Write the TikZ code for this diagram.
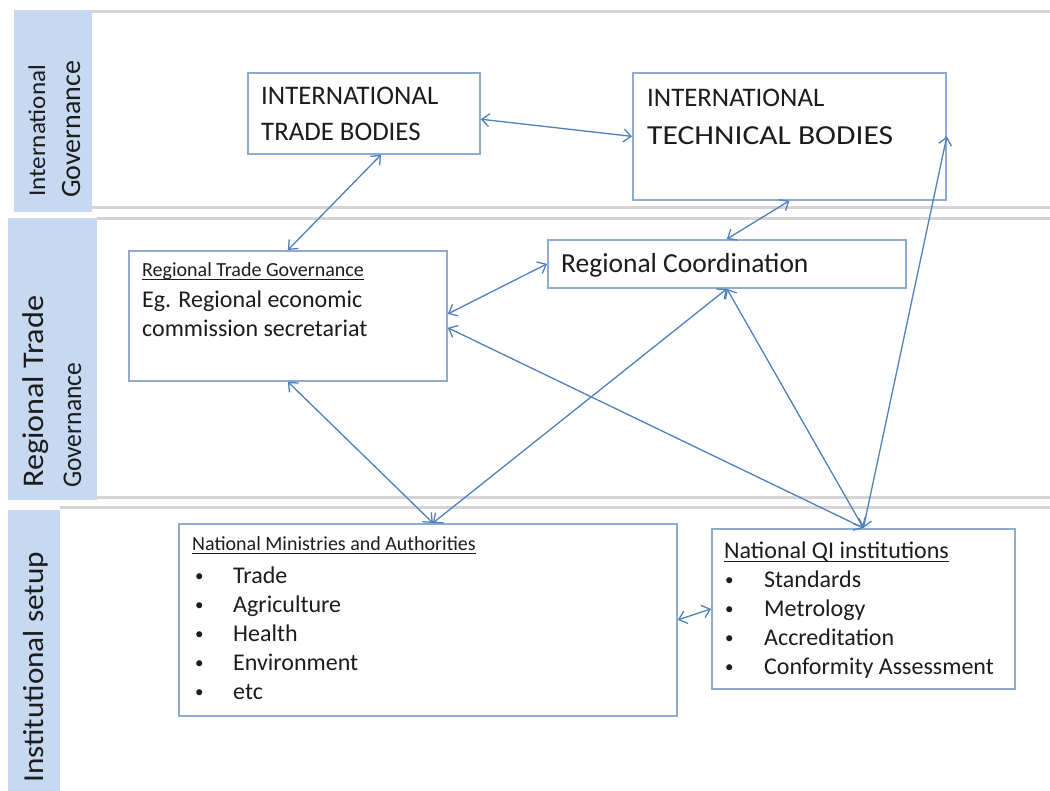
\documentclass[tikz,border=0pt]{standalone}
\usepackage{fontspec}
\setmainfont{Carlito}
\usepackage{graphicx}
\usetikzlibrary{arrows.meta,calc}
\definecolor{strip}{RGB}{198,217,241}
\definecolor{boxc}{RGB}{143,171,206}
\definecolor{arr}{RGB}{79,129,189}
\definecolor{bandc}{RGB}{212,212,212}
\definecolor{txt}{RGB}{28,28,28}
\begin{document}
\begin{tikzpicture}[x=1pt,y=-1pt,
  box/.style={draw=boxc, line width=1.8pt, fill=white, anchor=north west, inner sep=0},
  t/.style={anchor=base west, inner sep=0, text=txt},
  bul/.style={anchor=base west, inner sep=0, text=txt, font=\fontsize{17}{17}\selectfont},
  lbl/.style={rotate=90, anchor=base west, inner sep=0, text=txt},
  link/.style={draw=arr, line width=1.3pt, {Straight Barb[length=7.5pt,width=13pt]}-{Straight Barb[length=7.5pt,width=13pt]}},
  bandline/.style={draw=bandc, line width=3pt},
  uline/.style={draw=txt, line width=1pt}]
\useasboundingbox[fill=white] (0,0) rectangle (1050,791);

% label strips
\fill[strip] (14,10) rectangle (92,212);
\fill[strip] (8,218) rectangle (97,500);
\fill[strip] (8,510) rectangle (60,791);

% band lines
\draw[bandline] (92,12) -- (1050,12);
\draw[bandline] (92,208) -- (1050,208);
\draw[bandline] (97,219) -- (1050,219);
\draw[bandline] (97,497) -- (1050,497);
\draw[bandline] (60,507) -- (1050,507);

% band labels
\node[lbl, font=\fontsize{24}{24}\selectfont] (l1a) at (45,197) {\resizebox{132pt}{\height}{International}};
\node[lbl, font=\fontsize{28}{28}\selectfont] (l1b) at (80,198) {Governance};
\node[lbl, font=\fontsize{30}{30}\selectfont] (l2a) at (43,488) {\resizebox{192pt}{\height}{Regional Trade}};
\node[lbl, font=\fontsize{27}{27}\selectfont] (l2b) at (81,488) {\resizebox{125pt}{\height}{Governance}};
\node[lbl, font=\fontsize{29}{29}\selectfont] (l3) at (43,783) {\resizebox{231pt}{\height}{Institutional setup}};

% boxes
\node[box, minimum width=232pt, minimum height=81pt] (tb) at (247,72) {};
\node[box, minimum width=313pt, minimum height=127pt] (tc) at (632,72) {};
\node[box, minimum width=318pt, minimum height=130pt] (rtg) at (128,250) {};
\node[box, minimum width=358pt, minimum height=48pt] (rc) at (547,239) {};
\node[box, minimum width=498pt, minimum height=192pt] (nm) at (178,523) {};
\node[box, minimum width=303pt, minimum height=160pt] (qi) at (711,528) {};

% texts
\node[t, font=\fontsize{26.8}{30}\selectfont] (tb1) at (261,105) {INTERNATIONAL};
\node[t, font=\fontsize{26.8}{30}\selectfont] (tb2) at (261,141) {TRADE BODIES};
\node[t, font=\fontsize{26.8}{30}\selectfont] (tc1) at (647,107) {INTERNATIONAL};
\node[t, font=\fontsize{27.5}{30}\selectfont] (tc2) at (647,145) {\resizebox{246pt}{\height}{TECHNICAL BODIES}};
\node[t, font=\fontsize{27.5}{30}\selectfont] (rc1) at (561,273) {Regional Coordination};

\node[t, font=\fontsize{20}{24}\selectfont] (rtg1) at (142,277) {Regional Trade Governance};
\node[t, font=\fontsize{24}{28}\selectfont] (rtg2) at (142,308) {Eg. Regional economic};
\node[t, font=\fontsize{24}{28}\selectfont] (rtg3) at (142,337) {commission secretariat};
\draw[uline] ($(rtg1.base west)+(0,3)$) -- ($(rtg1.base east)+(0,3)$);

\node[t, font=\fontsize{20}{24}\selectfont] (nm0) at (192,550) {National Ministries and Authorities};
\draw[uline] ($(nm0.base west)+(0,3)$) -- ($(nm0.base east)+(0,3)$);
\foreach \n/\y/\s in {1/583/Trade,2/612/Agriculture,3/641/Health,4/670/Environment,5/699/etc}{
  \node[bul] (nmb\n) at (195,\y-2) {•};
  \node[t, font=\fontsize{24}{28}\selectfont] (nm\n) at (233,\y) {\s};
}

\node[t, font=\fontsize{24}{28}\selectfont] (qi0) at (724,558) {National QI institutions};
\draw[uline] ($(qi0.base west)+(0,3)$) -- ($(qi0.base east)+(0,3)$);
\foreach \n/\y/\s in {1/587/Standards,2/616/Metrology,3/645/Accreditation,4/674/Conformity Assessment}{
  \node[bul] (qib\n) at (725,\y-2) {•};
  \node[t, font=\fontsize{24}{28}\selectfont] (qi\n) at (764,\y) {\s};
}

% connectors
\draw[link] ($(tb.south west)!0.573!(tb.south east)$) -- ($(rtg.north west)!0.5!(rtg.north east)$);
\draw[link] ($(tb.north east)!0.57!(tb.south east)$) -- (tc.west);
\draw[link] (tc.south) -- (rc.north);
\draw[link] ($(rtg.north east)!0.485!(rtg.south east)$) -- (rc.west);
\draw[link] (rtg.south) -- ($(nm.north west)!0.51!(nm.north east)$);
\draw[link] ($(nm.north west)!0.51!(nm.north east)$) -- (rc.south);
\draw[link] ($(rtg.north east)!0.59!(rtg.south east)$) -- (qi.north);
\draw[link] (rc.south) -- (qi.north);
\draw[link] (tc.east) -- (qi.north);
\draw[link] (nm.east) -- (qi.west);
\end{tikzpicture}
\end{document}
